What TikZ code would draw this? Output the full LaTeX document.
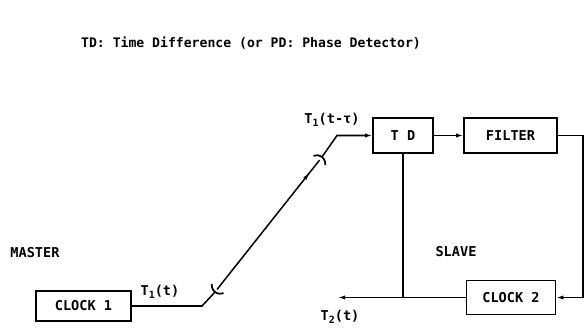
\documentclass[tikz,border=0pt]{standalone}
\usepackage{fontspec}
\setmainfont{DejaVu Sans Mono}
\usetikzlibrary{arrows.meta,calc,decorations.markings}

\newcommand{\lowsub}[1]{\raisebox{-0.45ex}{\fontsize{8.5}{9}\selectfont #1}}

\tikzset{
  block/.style={draw, line width=1.3pt, minimum height=1.05cm, font=\bfseries\fontsize{11.6}{13}\selectfont},
  sig/.style={font=\bfseries\fontsize{11.6}{13}\selectfont},
  wire/.style={line width=1.3pt},
  brkmark/.style={line width=1.5pt}
}

\begin{document}
\begin{tikzpicture}[>={Latex[length=6pt,width=3.6pt]}]
\useasboundingbox (0,0) rectangle (17.58,-9.87);

\node[sig, font=\bfseries\fontsize{11.2}{13}\selectfont] at (7.53,-1.29) (title) {TD: Time Difference (or PD: Phase Detector)};

\node[block, minimum width=1.8cm] at (12.09,-4.065) (td) {T D};
\node[block, minimum width=2.79cm] at (15.315,-4.065) (filter) {FILTER};
\node[block, minimum width=2.67cm, minimum height=1.02cm] at (15.33,-8.925) (clock2) {CLOCK 2};
\node[block, minimum width=2.85cm, minimum height=0.9cm] at (2.505,-9.18) (clock1) {CLOCK 1};

\node[sig] at (1.05,-7.59) (master) {MASTER};
\node[sig] at (13.68,-7.56) (slave) {SLAVE};
\node[sig] at (4.8,-8.76) (t1) {T\lowsub{1}(t)};
\node[sig] at (9.96,-3.6) (t1tau) {T\lowsub{1}(t-τ)};
\node[sig] at (10.2,-9.51) (t2) {T\lowsub{2}(t)};

\coordinate (bend) at (6.06,-9.18);
\coordinate (brklow) at (6.45,-8.76);
\coordinate (brkup) at (9.66,-4.71);
\coordinate (elbow) at (10.11,-4.065);
\coordinate (rturn) at (17.49,-4.065);
\coordinate (tap) at (td |- clock2);
\coordinate (t2out) at (10.14,-8.925);

% master link, broken at both ends
\draw[wire] (clock1) -- (bend) -- (brklow);
\draw[wire, postaction={decorate}, decoration={markings, mark=at position 0.9 with {\arrow{Latex[length=6pt,width=3.6pt]}}}]
  ($(brklow)!0.1cm!(brkup)$) -- ($(brkup)!0.12cm!(brklow)$);
\draw[wire, ->] (brkup) -- (elbow) -- (td);
\draw[brkmark] (brklow) ++(52:0.26) ++(172:0.26) arc[start angle=172, end angle=292, radius=0.26];
\draw[brkmark] (brkup) ++(232:0.26) ++(-8:0.26) arc[start angle=-8, end angle=112, radius=0.26];

% slave loop
\draw[wire, ->] (td) -- (filter);
\draw[wire, ->] (filter) -- (rturn) |- (clock2);
\draw[wire] (td) -- (tap);
\draw[wire, ->] (clock2) -- (t2out);
\end{tikzpicture}
\end{document}
